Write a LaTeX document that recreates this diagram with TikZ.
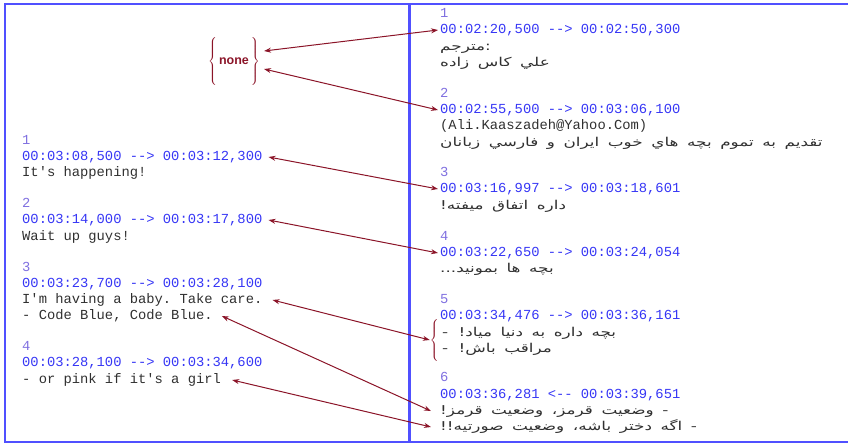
\documentclass[tikz,border=0pt]{standalone}
\usepackage{fontspec}
\setmonofont{Liberation Mono}
\setsansfont{Liberation Sans}
\newfontfamily\farsifont[Script=Arabic,FakeStretch=1.38,WordSpace=1.6]{DejaVu Sans}
\TeXXeTstate=1
\usetikzlibrary{arrows.meta,calc}
\newcommand{\farsi}[1]{{\farsifont\beginR #1\endR}}

\definecolor{frame color}{HTML}{5050FF}
\definecolor{index color}{HTML}{8070E0}
\definecolor{time color}{HTML}{3636F5}
\definecolor{sub color}{HTML}{303030}
\definecolor{link color}{HTML}{8B1428}

\tikzset{
    x={1pt},
    y={-1pt},
    srt line/.style={
        anchor=west,
        inner sep=0pt,
        text height=9pt,
        text depth=3pt,
        font=\ttfamily\fontsize{13.8}{16}\selectfont,
    },
    index line/.style={srt line, text=index color},
    time line/.style={srt line, text=time color},
    sub line/.style={srt line, text=sub color},
    farsi line/.style={
        srt line,
        text=sub color,
        font=\fontsize{12.2}{16}\selectfont,
    },
    link/.style={
        draw=link color,
        line width={1pt},
        {Stealth[length=7pt,width=5pt]}-{Stealth[length=7pt,width=5pt]},
    },
    frame/.style={
        draw=frame color,
        line width={1.5pt},
    },
    bracket/.style={
        text=link color,
        inner sep=0pt,
    },
}

\begin{document}
\begin{tikzpicture}
\useasboundingbox (0,0) rectangle (848,445);
% frames
\draw[frame] (848,4) -- (5,4) -- (5,442) -- (848,442);
\draw[frame, line width={3pt}] (409,4) -- (409,442);
% left file
\node[index line] (l1n) at (22,141) {1};
\node[time line] (l1t) at (22,157) {00:03:08,500 --> 00:03:12,300};
\node[sub line] (l1a) at (22,173) {It's happening!};
\node[index line] (l2n) at (22,204) {2};
\node[time line] (l2t) at (22,220) {00:03:14,000 --> 00:03:17,800};
\node[sub line] (l2a) at (22,237) {Wait up guys!};
\node[index line] (l3n) at (22,268) {3};
\node[time line] (l3t) at (22,284) {00:03:23,700 --> 00:03:28,100};
\node[sub line] (l3a) at (22,300) {I'm having a baby. Take care.};
\node[sub line] (l3b) at (22,316) {- Code Blue, Code Blue.};
\node[index line] (l4n) at (22,347) {4};
\node[time line] (l4t) at (22,363) {00:03:28,100 --> 00:03:34,600};
\node[sub line] (l4a) at (22,380) {- or pink if it's a girl};
% right file
\node[index line] (r1n) at (440,14) {1};
\node[time line] (r1t) at (440,30) {00:02:20,500 --> 00:02:50,300};
\node[farsi line] (r1a) at (440,47) {\farsi{:مترجم}};
\node[farsi line] (r1b) at (440,63) {\farsi{علي كاس زاده}};
\node[index line] (r2n) at (440,94) {2};
\node[time line] (r2t) at (440,110) {00:02:55,500 --> 00:03:06,100};
\node[sub line] (r2a) at (440,126) {(Ali.Kaaszadeh@Yahoo.Com)};
\node[farsi line] (r2b) at (440,143) {\farsi{تقديم به تموم بچه هاي خوب ايران و فارسي زبانان}};
\node[index line] (r3n) at (440,173) {3};
\node[time line] (r3t) at (440,189) {00:03:16,997 --> 00:03:18,601};
\node[farsi line] (r3a) at (440,206) {\farsi{داره اتفاق ميفته!}};
\node[index line] (r4n) at (440,237) {4};
\node[time line] (r4t) at (440,253) {00:03:22,650 --> 00:03:24,054};
\node[farsi line] (r4a) at (440,269) {\farsi{بچه ها بمونيد...}};
\node[index line] (r5n) at (440,300) {5};
\node[time line] (r5t) at (440,316) {00:03:34,476 --> 00:03:36,161};
\node[farsi line] (r5a) at (442,333) {\farsi{بچه داره به دنيا مياد! -}};
\node[farsi line] (r5b) at (442,349) {\farsi{مراقب باش! -}};
\node[index line] (r6n) at (440,378) {6};
\node[time line] (r6t) at (440,395) {00:03:36,281 <-- 00:03:39,651};
\node[farsi line] (r6a) at (440,411) {\farsi{- وضعيت قرمز، وضعيت قرمز!}};
\node[farsi line] (r6b) at (440,427) {\farsi{- اگه دختر باشه، وضعيت صورتيه!!}};
% brackets
\node[bracket, font=\sffamily\bfseries\fontsize{12.5}{14}\selectfont] (none) at (234,61)
    {$\left\{\vphantom{\rule{0pt}{27pt}}\,\mbox{none}\,\right\}$};
\node[bracket] (r5brace) at (435,340) {$\left\{\vphantom{\rule{0pt}{23pt}}\right.$};
% links
\draw[link] ($(none.east)+(4,-10)$) -- ([xshift=-2pt]r1t.west);
\draw[link] ($(none.east)+(4,8)$) -- ([xshift=-2pt]r2t.west);
\draw[link] ([xshift=6pt]l1t.east) -- ([xshift=-2pt]r3t.west);
\draw[link] ([xshift=6pt]l2t.east) -- ([xshift=-2pt]r4t.west);
\draw[link] ([xshift=10pt]l3a.east) -- (r5brace.west);
\draw[link] ([xshift=9pt]l3b.east) -- ([xshift=-9pt]r6a.west);
\draw[link] ([xshift=11pt]l4a.east) -- ([xshift=-9pt]r6b.west);
\end{tikzpicture}
\end{document}
